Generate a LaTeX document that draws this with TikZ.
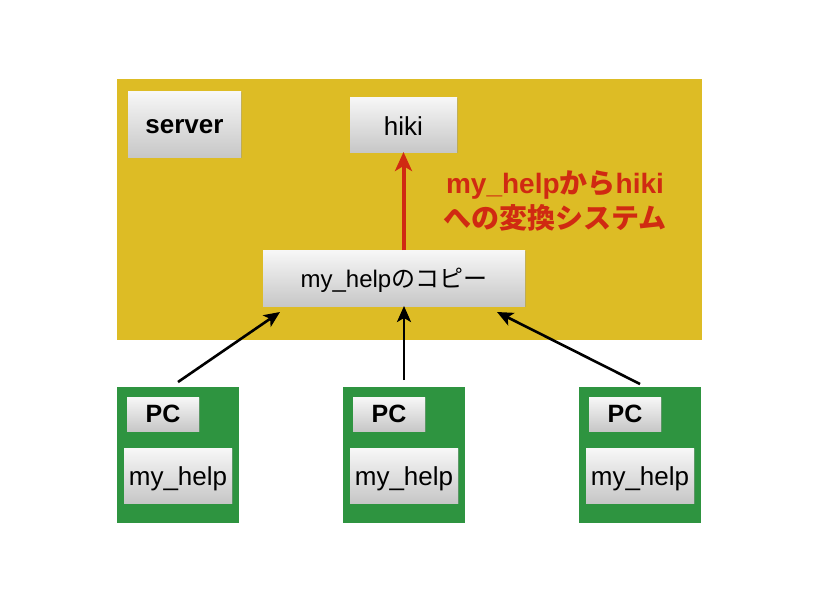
\documentclass[tikz,border=0pt]{standalone}
\usepackage{fontspec}
\setmainfont{Liberation Sans}
\newfontfamily\jp{Noto Sans CJK JP}
\usetikzlibrary{shadows,arrows.meta}
\definecolor{gold}{HTML}{DDBC25}
\definecolor{pcgreen}{HTML}{2E9440}
\definecolor{redtxt}{HTML}{D02A12}
\newcommand{\lowr}[2]{\raisebox{-#1}[\height][\depth]{#2}}
\begin{document}
\begin{tikzpicture}[x=1pt,y=-1pt,
  area/.style={anchor=north west, inner sep=0pt, outer sep=0pt},
  card/.style={anchor=north west, inner sep=0pt, outer sep=0pt,
    top color=white!97!black, bottom color=black!22, draw=none,
    drop shadow={opacity=0.35, shadow xshift=1pt, shadow yshift=-1.2pt},
    font=\fontsize{26}{30}\selectfont},
  bcard/.style={card, font=\fontsize{26}{30}\selectfont\bfseries},
  conn/.style={-{Stealth[length=16pt,width=14pt,inset=4pt]}, line width=2.6pt, black},
]
\useasboundingbox (0,0) rectangle (819,614);
\fill[white] (0,0) rectangle (819,614);
% server area
\node[area, fill=gold, minimum width=585pt, minimum height=261pt] (srv) at (117,79) {};
\node[bcard, minimum width=113pt, minimum height=66pt] (srvlab) at (128,91) {\lowr{3pt}{server}};
\node[card, minimum width=107pt, minimum height=55pt] (hiki) at (350,97) {\lowr{2pt}{hiki}};
\node[card, minimum width=262pt, minimum height=56pt, font=\fontsize{24}{28}\selectfont] (copy) at (263,250) {\lowr{2pt}{my\_help{\jp のコピー}}};
\draw[-{Stealth[length=19pt,width=17pt,inset=5pt]}, line width=4pt, redtxt] (copy.north -| hiki.south) -- (hiki.south);
\node[text=redtxt, font=\fontsize{28}{35}\selectfont\bfseries, align=center, inner sep=0pt] (lbl) at (555,201)
  {my\_help{\jp から}hiki\\{\jp への変換システム}};
% PCs
\foreach \i/\x in {1/117,2/343,3/579}{
  \node[area, fill=pcgreen, minimum width=122pt, minimum height=136pt] (pc\i) at (\x,387) {};
  \node[bcard, minimum width=72pt, minimum height=34pt, font=\fontsize{25}{28}\selectfont\bfseries] (pcl\i) at (\x+10,397) {PC};
  \node[card, minimum width=108pt, minimum height=55pt] (mh\i) at (\x+7,448) {\lowr{3pt}{my\_help}};
}
\coordinate (t1) at (280,312);
\coordinate (t3) at (497,312);
\draw[conn] (pc1.north) ++(0,-5) -- (t1);
\draw[conn] (pc2.north) ++(0,-7) -- (pc2.north |- copy.south);
\draw[conn] (pc3.north) ++(0,-3) -- (t3);
\end{tikzpicture}
\end{document}
